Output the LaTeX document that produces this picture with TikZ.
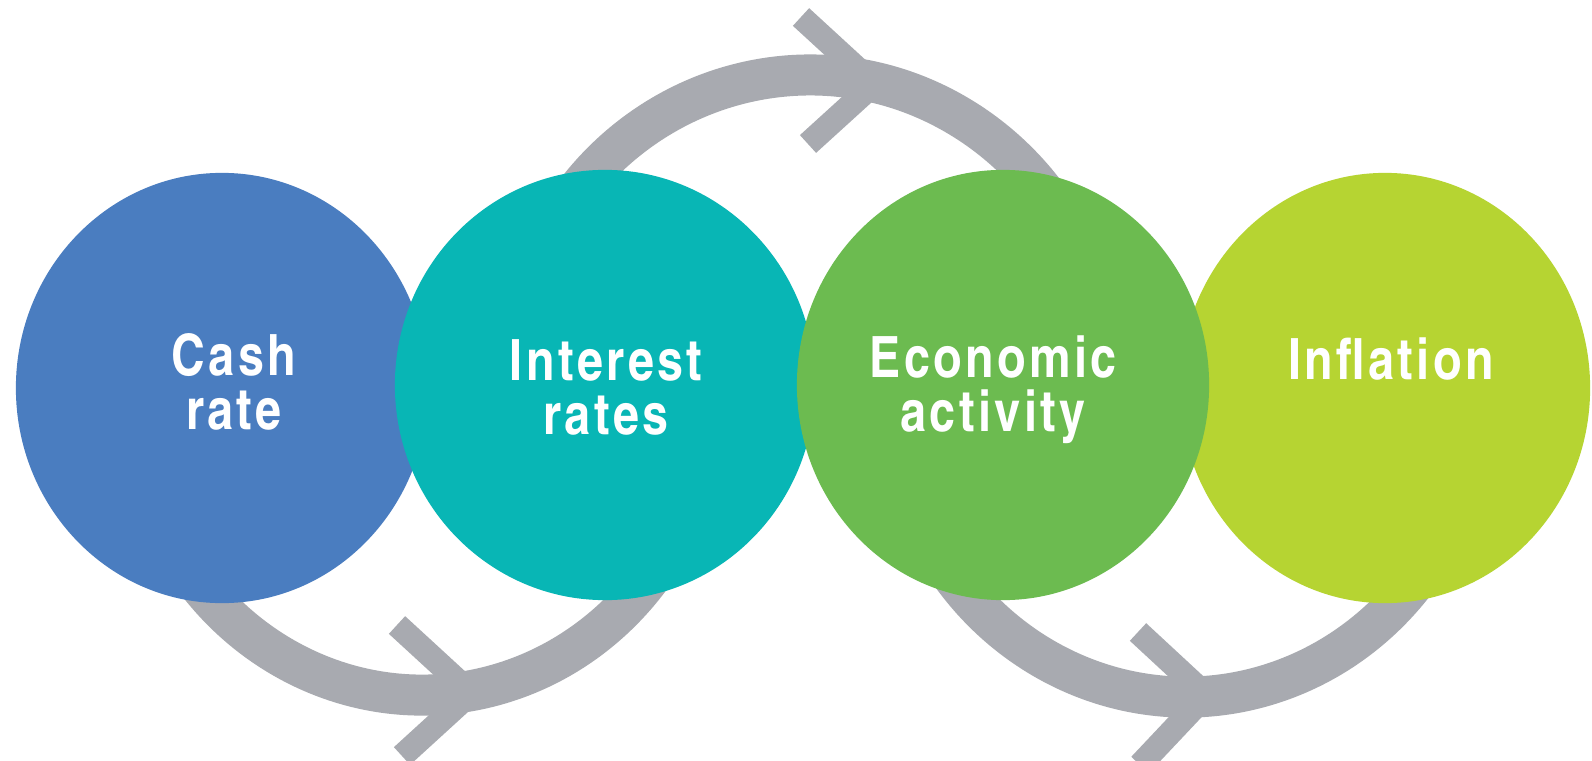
\documentclass[tikz,border=0pt]{standalone}
\usepackage{fontspec}
\setmainfont{texgyreheroscn}[Extension=.otf, UprightFont=*-regular, BoldFont=*-bold, LetterSpace=6]
\usetikzlibrary{shapes.geometric}
\definecolor{cashblue}{HTML}{4A7DC0}
\definecolor{rateteal}{HTML}{08B6B5}
\definecolor{econgreen}{HTML}{6CBB50}
\definecolor{inflime}{HTML}{B6D432}
\definecolor{arcgray}{HTML}{A8AAB0}
\begin{document}
\begin{tikzpicture}[x=0.01cm,y=0.01cm,
  bubble/.style={ellipse, inner sep=0pt, draw=none},
  lbl/.style={text=white, font=\bfseries\fontsize{16.2}{15.2}\selectfont, align=center, inner sep=0pt, anchor=base},
  band/.style={draw=arcgray, line width=0.41cm},
  chev/.style={draw=arcgray, line width=0.24cm, line join=miter}]
\useasboundingbox (0,0) rectangle (1592,760);
\clip (0,0) rectangle (1592,760);
\fill[white] (0,0) rectangle (1592,760);
% arc centres
\coordinate (topc) at (810,372);
\coordinate (botc1) at (422,372);
\coordinate (botc2) at (1186,372);
% grey arcs
\draw[band] (topc) ++(150:300 and 313) arc[start angle=150, end angle=30, x radius=300, y radius=313];
\draw[band] (botc1) ++(200:290 and 307) arc[start angle=200, end angle=340, x radius=290, y radius=307];
\draw[band] (botc2) ++(200:294 and 309) arc[start angle=200, end angle=340, x radius=294, y radius=309];
% chevrons
\coordinate (ta) at (801,743);
\coordinate (tv) at (874,676);
\coordinate (tb) at (808,616);
\coordinate (ba) at (397,135);
\coordinate (bv) at (471,67);
\coordinate (bb) at (402,4);
\coordinate (ca) at (1138,128);
\coordinate (cv) at (1206,65);
\coordinate (cb) at (1140,-5);
\draw[chev] (ta) -- (tv) -- (tb);
\draw[chev] (ba) -- (bv) -- (bb);
\draw[chev] (ca) -- (cv) -- (cb);
% circles
\node[bubble, fill=cashblue, minimum width=4.12cm, minimum height=4.30cm] (cash) at (222,372) {};
\node[bubble, fill=rateteal, minimum width=4.20cm, minimum height=4.30cm] (rates) at (605,375) {};
\node[bubble, fill=inflime, minimum width=4.10cm, minimum height=4.30cm] (infl) at (1385,372) {};
\node[bubble, fill=econgreen, minimum width=4.12cm, minimum height=4.30cm] (econ) at (1003,375) {};
% labels (base anchor = baseline of last line)
\node[lbl] (tcash) at (234,331) {Cash\\rate};
\node[lbl] (trates) at (606,326) {Interest\\rates};
\node[lbl] (tecon) at (993,329) {Economic\\activity};
\node[lbl] (tinfl) at (1391,381) {Inflation};
\end{tikzpicture}
\end{document}
